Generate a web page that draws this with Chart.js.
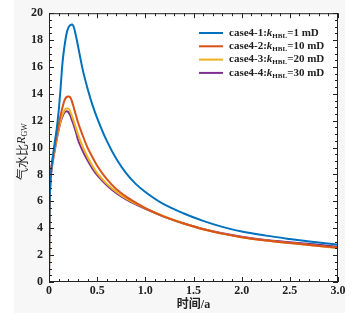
<!DOCTYPE html>
<html>
<head>
<meta charset="utf-8">
<script src="https://cdn.jsdelivr.net/npm/chart.js@4"></script>
<style>
  html, body { margin: 0; padding: 0; background: #fff; }
  canvas { display: block; }
</style>
</head>
<body>
<canvas id="grafica" width="358" height="323"></canvas>
<script>
// datos
const tiempos = [0, 0.005, 0.01, 0.02, 0.04, 0.06, 0.08, 0.1, 0.12, 0.14, 0.16, 0.18, 0.2, 0.22, 0.24, 0.26, 0.28, 0.3, 0.35, 0.4, 0.45, 0.5, 0.6, 0.7, 0.8, 0.9, 1.0, 1.2, 1.4, 1.6, 1.8, 2.0, 2.25, 2.5, 2.75, 3.0];

const caso1 = [0, 5, 6.8, 8, 9.3, 10.4, 11.4, 12.7, 14.4, 16.3, 17.5, 18.4, 18.9, 19.1, 19.15, 18.9, 18.3, 17.6, 15.8, 14.4, 13.2, 12.2, 10.5, 9.15, 8.1, 7.3, 6.7, 5.75, 5.1, 4.55, 4.1, 3.75, 3.45, 3.2, 2.97, 2.78];
const caso2 = [0, 5, 7, 8.2, 9.3, 10.1, 10.9, 11.7, 12.4, 13.0, 13.5, 13.75, 13.8, 13.75, 13.4, 12.9, 12.4, 11.9, 10.9, 10.0, 9.3, 8.65, 7.65, 6.9, 6.35, 5.9, 5.5, 4.85, 4.35, 3.92, 3.6, 3.33, 3.08, 2.9, 2.72, 2.55];
const caso3 = [0, 4.8, 6.8, 8.0, 9.1, 9.9, 10.7, 11.4, 12.0, 12.45, 12.75, 12.9, 12.9, 12.7, 12.3, 11.9, 11.45, 11.0, 10.05, 9.3, 8.65, 8.1, 7.3, 6.7, 6.22, 5.84, 5.48, 4.87, 4.35, 3.93, 3.6, 3.33, 3.08, 2.9, 2.72, 2.52];
const caso4 = [0, 4.5, 6.5, 7.9, 9.0, 9.8, 10.6, 11.3, 11.9, 12.3, 12.6, 12.7, 12.65, 12.4, 12.0, 11.6, 11.15, 10.6, 9.75, 9.05, 8.45, 7.95, 7.2, 6.6, 6.15, 5.78, 5.45, 4.85, 4.35, 3.95, 3.62, 3.36, 3.12, 2.96, 2.8, 2.62];

const nombresCasos = ['case4-1:', 'case4-2:', 'case4-3:', 'case4-4:'];
const valoresK = ['=1 mD', '=10 mD', '=20 mD', '=30 mD'];
const colores = ['#0072BD', '#D95319', '#EDB120', '#7E2F8E'];

const serie = (vals) => tiempos.map((t, i) => ({ x: t, y: vals[i] }));

// fondo gris claro y area blanca
const pluginFondo = {
  id: 'fondo',
  beforeDraw(chart) {
    const ctx = chart.ctx;
    const a = chart.chartArea;
    ctx.save();
    ctx.fillStyle = '#ffffff';
    ctx.fillRect(0, 0, chart.width, chart.height);
    ctx.fillStyle = '#f7f7f7';
    ctx.fillRect(14, 0, 331, 313);
    ctx.fillStyle = '#ffffff';
    ctx.fillRect(a.left, a.top, a.right - a.left, a.bottom - a.top);
    ctx.restore();
  }
};

// marco, ticks hacia dentro, leyenda y titulo del eje y
const pluginMarco = {
  id: 'marco',
  afterDraw(chart) {
    const ctx = chart.ctx;
    const a = chart.chartArea;
    const sx = chart.scales.x;
    const sy = chart.scales.y;
    ctx.save();
    ctx.strokeStyle = '#222';
    ctx.lineWidth = 1;
    ctx.strokeRect(a.left + 0.5, a.top + 0.5, a.right - a.left - 1, a.bottom - a.top - 1);

    ctx.beginPath();
    for (let i = 0; i <= 30; i++) {
      const v = i / 10;
      const px = Math.round(sx.getPixelForValue(v)) + 0.5;
      const largo = i % 5 === 0 ? 5 : 3;
      ctx.moveTo(px, a.bottom); ctx.lineTo(px, a.bottom - largo);
      ctx.moveTo(px, a.top); ctx.lineTo(px, a.top + largo);
    }
    for (let i = 0; i <= 40; i++) {
      const v = i / 2;
      const py = Math.round(sy.getPixelForValue(v)) + 0.5;
      const largo = i % 4 === 0 ? 5 : 3;
      ctx.moveTo(a.left, py); ctx.lineTo(a.left + largo, py);
      ctx.moveTo(a.right, py); ctx.lineTo(a.right - largo, py);
    }
    ctx.stroke();

    // leyenda
    ctx.textBaseline = 'middle';
    ctx.fillStyle = '#222';
    nombresCasos.forEach((nombre, i) => {
      const y = 33 + i * 13.3;
      ctx.strokeStyle = colores[i];
      ctx.lineWidth = 2;
      ctx.beginPath();
      ctx.moveTo(199, y); ctx.lineTo(223, y);
      ctx.stroke();
      let x = 229;
      ctx.font = 'bold 11px "Liberation Serif", serif';
      ctx.fillText(nombre, x, y);
      x += ctx.measureText(nombre).width;
      ctx.font = 'italic bold 11px "Liberation Serif", serif';
      ctx.fillText('k', x, y);
      x += ctx.measureText('k').width;
      ctx.font = 'bold 7px "Liberation Serif", serif';
      ctx.fillText('HBL', x, y + 3);
      x += ctx.measureText('HBL').width;
      ctx.font = 'bold 11px "Liberation Serif", serif';
      ctx.fillText(valoresK[i], x, y);
    });

    // titulo eje y
    ctx.translate(22, (a.top + a.bottom) / 2 + 4);
    ctx.rotate(-Math.PI / 2);
    const partes = [
      { t: '气水比', f: '12px "Noto Sans CJK SC", serif', dy: 0 },
      { t: 'R', f: 'italic 12px "Liberation Serif", serif', dy: 0 },
      { t: 'GW', f: '8px "Liberation Serif", serif', dy: 3 }
    ];
    let total = 0;
    partes.forEach(p => { ctx.font = p.f; total += ctx.measureText(p.t).width; });
    let x = -total / 2;
    partes.forEach(p => {
      ctx.font = p.f;
      ctx.fillText(p.t, x, p.dy);
      x += ctx.measureText(p.t).width;
    });
    ctx.restore();
  }
};

const config = {
  type: 'line',
  data: {
    datasets: [caso1, caso2, caso3, caso4].map((vals, i) => ({
      label: nombresCasos[i] + valoresK[i],
      data: serie(vals),
      borderColor: colores[i],
      backgroundColor: colores[i],
      borderWidth: 2,
      pointRadius: 0,
      fill: false,
      tension: 0.4,
      cubicInterpolationMode: 'monotone'
    }))
  },
  options: {
    responsive: false,
    animation: false,
    layout: { padding: { top: 13, right: 20, left: 0, bottom: 0 } },
    plugins: { legend: { display: false }, tooltip: { enabled: false } },
    scales: {
      x: {
        type: 'linear',
        min: 0, max: 3,
        grid: { display: false, drawTicks: false },
        border: { display: false },
        ticks: {
          stepSize: 0.5,
          padding: 2,
          color: '#222',
          font: { family: '"Liberation Serif", serif', size: 12, weight: 'bold' },
          callback: (v) => v === 0 ? '0' : v.toFixed(1)
        },
        title: {
          display: true,
          text: '时间/a',
          color: '#222',
          padding: { top: 0, bottom: 11 },
          font: { family: '"Liberation Serif", "Noto Sans CJK SC", serif', size: 12, weight: 'bold' }
        },
        afterFit: (s) => { s.height = 41; }
      },
      y: {
        min: 0, max: 20,
        grid: { display: false, drawTicks: false },
        border: { display: false },
        ticks: {
          stepSize: 2,
          padding: 6,
          color: '#222',
          font: { family: '"Liberation Serif", serif', size: 12, weight: 'bold' }
        },
        afterFit: (s) => { s.width = 49; }
      }
    }
  },
  plugins: [pluginFondo, pluginMarco]
};

const grafica = new Chart(document.querySelector('#grafica').getContext('2d'), config);
</script>
</body>
</html>
